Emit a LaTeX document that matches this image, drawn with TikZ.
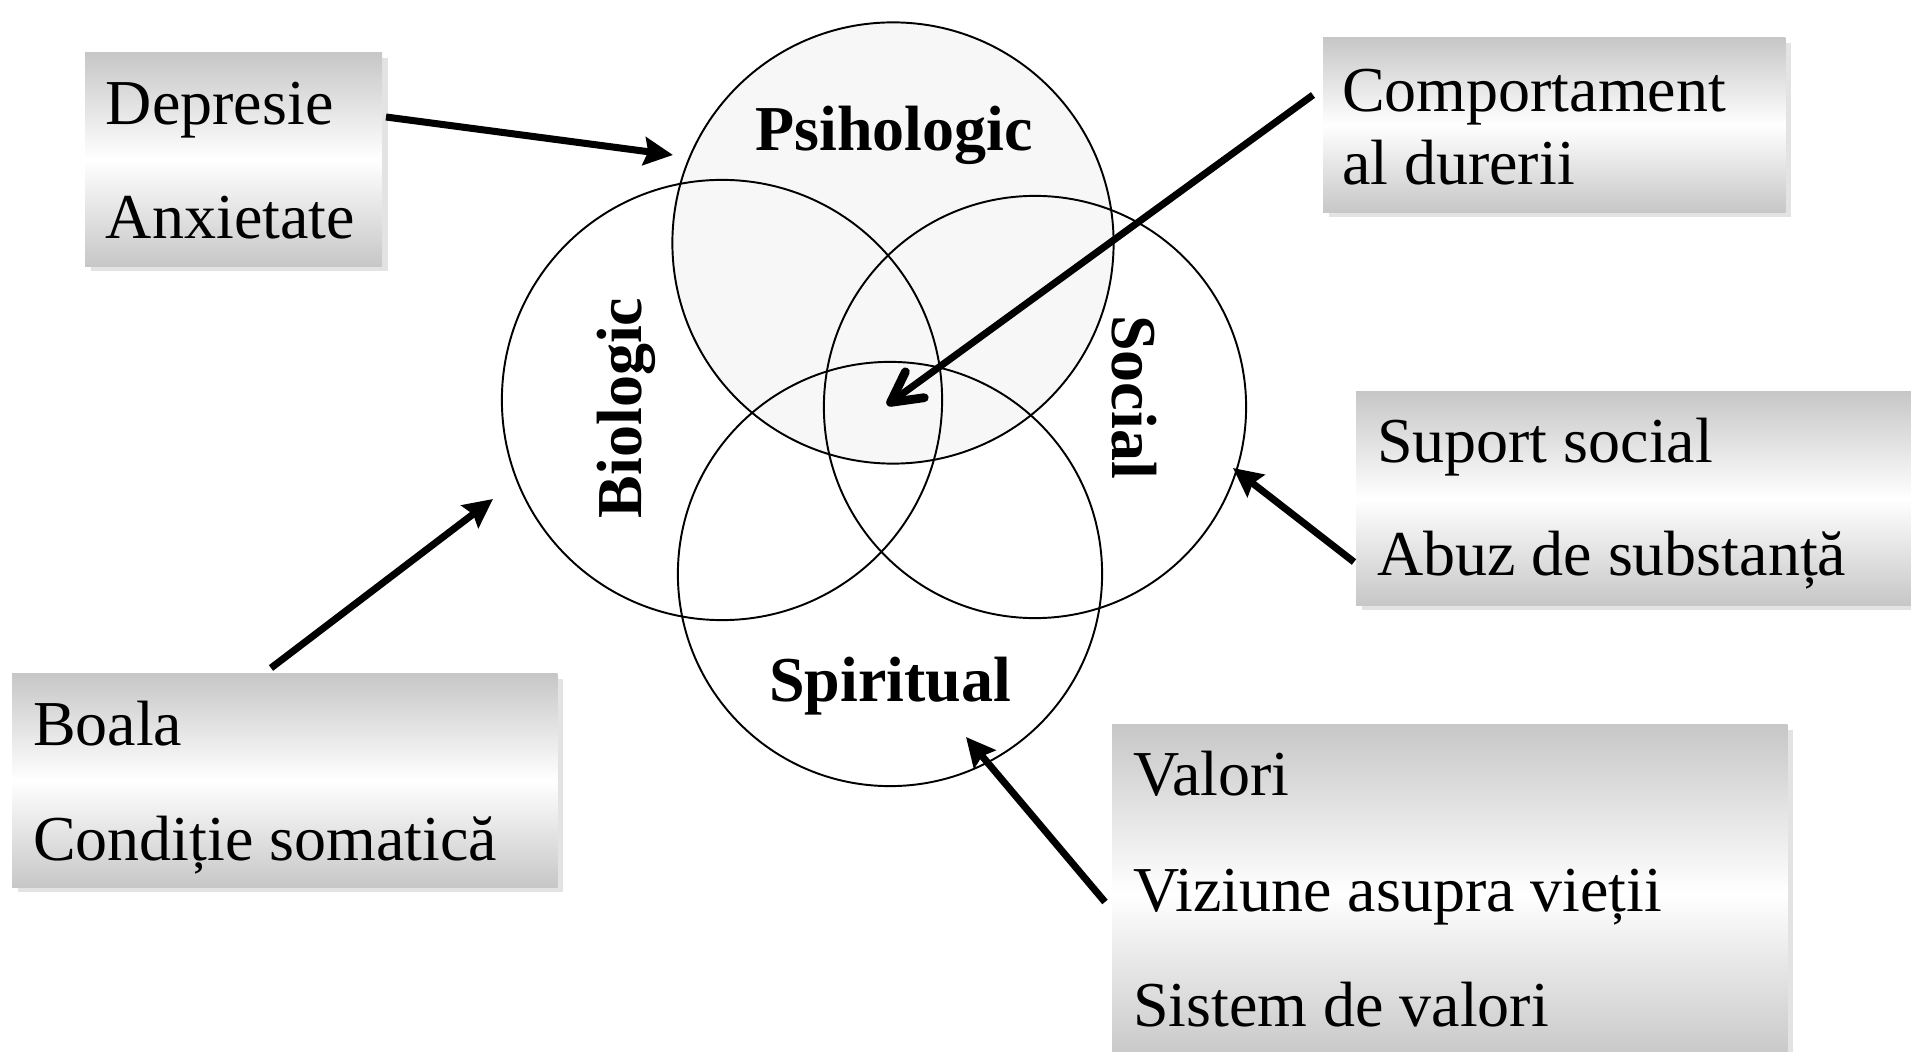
\documentclass[tikz,border=0pt]{standalone}
\usepackage{fontspec}
\setmainfont{Liberation Serif}
\usetikzlibrary{arrows.meta,shadows}
\definecolor{boxgray}{gray}{0.78}
\definecolor{shadowgray}{gray}{0.89}
\definecolor{psifill}{gray}{0.97}
\begin{document}
\begin{tikzpicture}[x=0.01cm,y=-0.01cm,
  every node/.style={inner sep=0pt, outer sep=0pt},
  txt/.style={anchor=base west, font=\fontsize{18.2}{20}\selectfont},
  lbl/.style={anchor=base, font=\fontsize{18.2}{20}\selectfont\bfseries},
  ring/.style={circle, draw=black, line width=0.55pt},
  card/.style={anchor=north west, top color=boxgray, bottom color=boxgray, middle color=white,
    general shadow={fill=shadowgray, shadow xshift=0.06cm, shadow yshift=-0.05cm}},
  link/.style={line width=2pt, -{Stealth[length=0.29cm,width=0.28cm,inset=0.04cm]}},
  barb/.style={line width=2pt, -{Straight Barb[length=0.3cm,width=0.32cm,round,line width=2.5pt]}},
]
\useasboundingbox (0,0) rectangle (1911,1052);
\clip (0,0) rectangle (1911,1052);

% four overlapping domains
\node[ring, fill=psifill, minimum size=4.41cm] (psi) at (893,243) {};
\node[ring, minimum size=4.40cm] (bio) at (722,400) {};
\node[ring, minimum size=4.22cm] (soc) at (1035,407) {};
\node[ring, minimum size=4.24cm] (spi) at (890,574) {};

\node[lbl] (psil) at (894,151) {Psihologic};
\node[lbl] (spil) at (890,702) {Spiritual};
\node[lbl, rotate=90] (biol) at (641,408) {Biologic};
\node[lbl, rotate=-90] (socl) at (1112,397) {Social};

% factor cards
\node[card, minimum width=2.97cm, minimum height=2.13cm] (b1) at (85,53) {};
\node[txt] (t1a) at (106,125) {Depresie};
\node[txt] (t1b) at (106,239) {Anxietate};

\node[card, minimum width=4.62cm, minimum height=1.74cm] (b2) at (1323,38) {};
\node[txt] (t2a) at (1342,112) {Comportament};
\node[txt] (t2b) at (1342,185) {al durerii};

\node[card, minimum width=5.70cm, minimum height=2.13cm] (b3) at (1356,392) {};
\node[txt] (t3a) at (1377,463) {Suport social};
\node[txt] (t3b) at (1377,576) {Abuz de substanță};

\node[card, minimum width=5.45cm, minimum height=2.13cm] (b4) at (12,674) {};
\node[txt] (t4a) at (33,746) {Boala};
\node[txt] (t4b) at (33,860) {Condiție somatică};

\node[card, minimum width=6.75cm, minimum height=3.35cm] (b5) at (1112,725) {};
\node[txt] (t5a) at (1133,796) {Valori};
\node[txt] (t5b) at (1133,912) {Viziune asupra vieții};
\node[txt] (t5c) at (1133,1026) {Sistem de valori};

% arrow end points
\coordinate (a1s) at (386,117);  \coordinate (a1e) at (673,155);
\coordinate (a2s) at (1313,95);  \coordinate (a2e) at (887,405);
\coordinate (a3s) at (1354,562); \coordinate (a3e) at (1233,468);
\coordinate (a4s) at (271,668);  \coordinate (a4e) at (493,499);
\coordinate (a5s) at (1105,902); \coordinate (a5e) at (966,737);

\draw[link] (a1s) -- (a1e);
\draw[barb] (a2s) -- (a2e);
\draw[link] (a3s) -- (a3e);
\draw[link] (a4s) -- (a4e);
\draw[link] (a5s) -- (a5e);
\end{tikzpicture}
\end{document}
